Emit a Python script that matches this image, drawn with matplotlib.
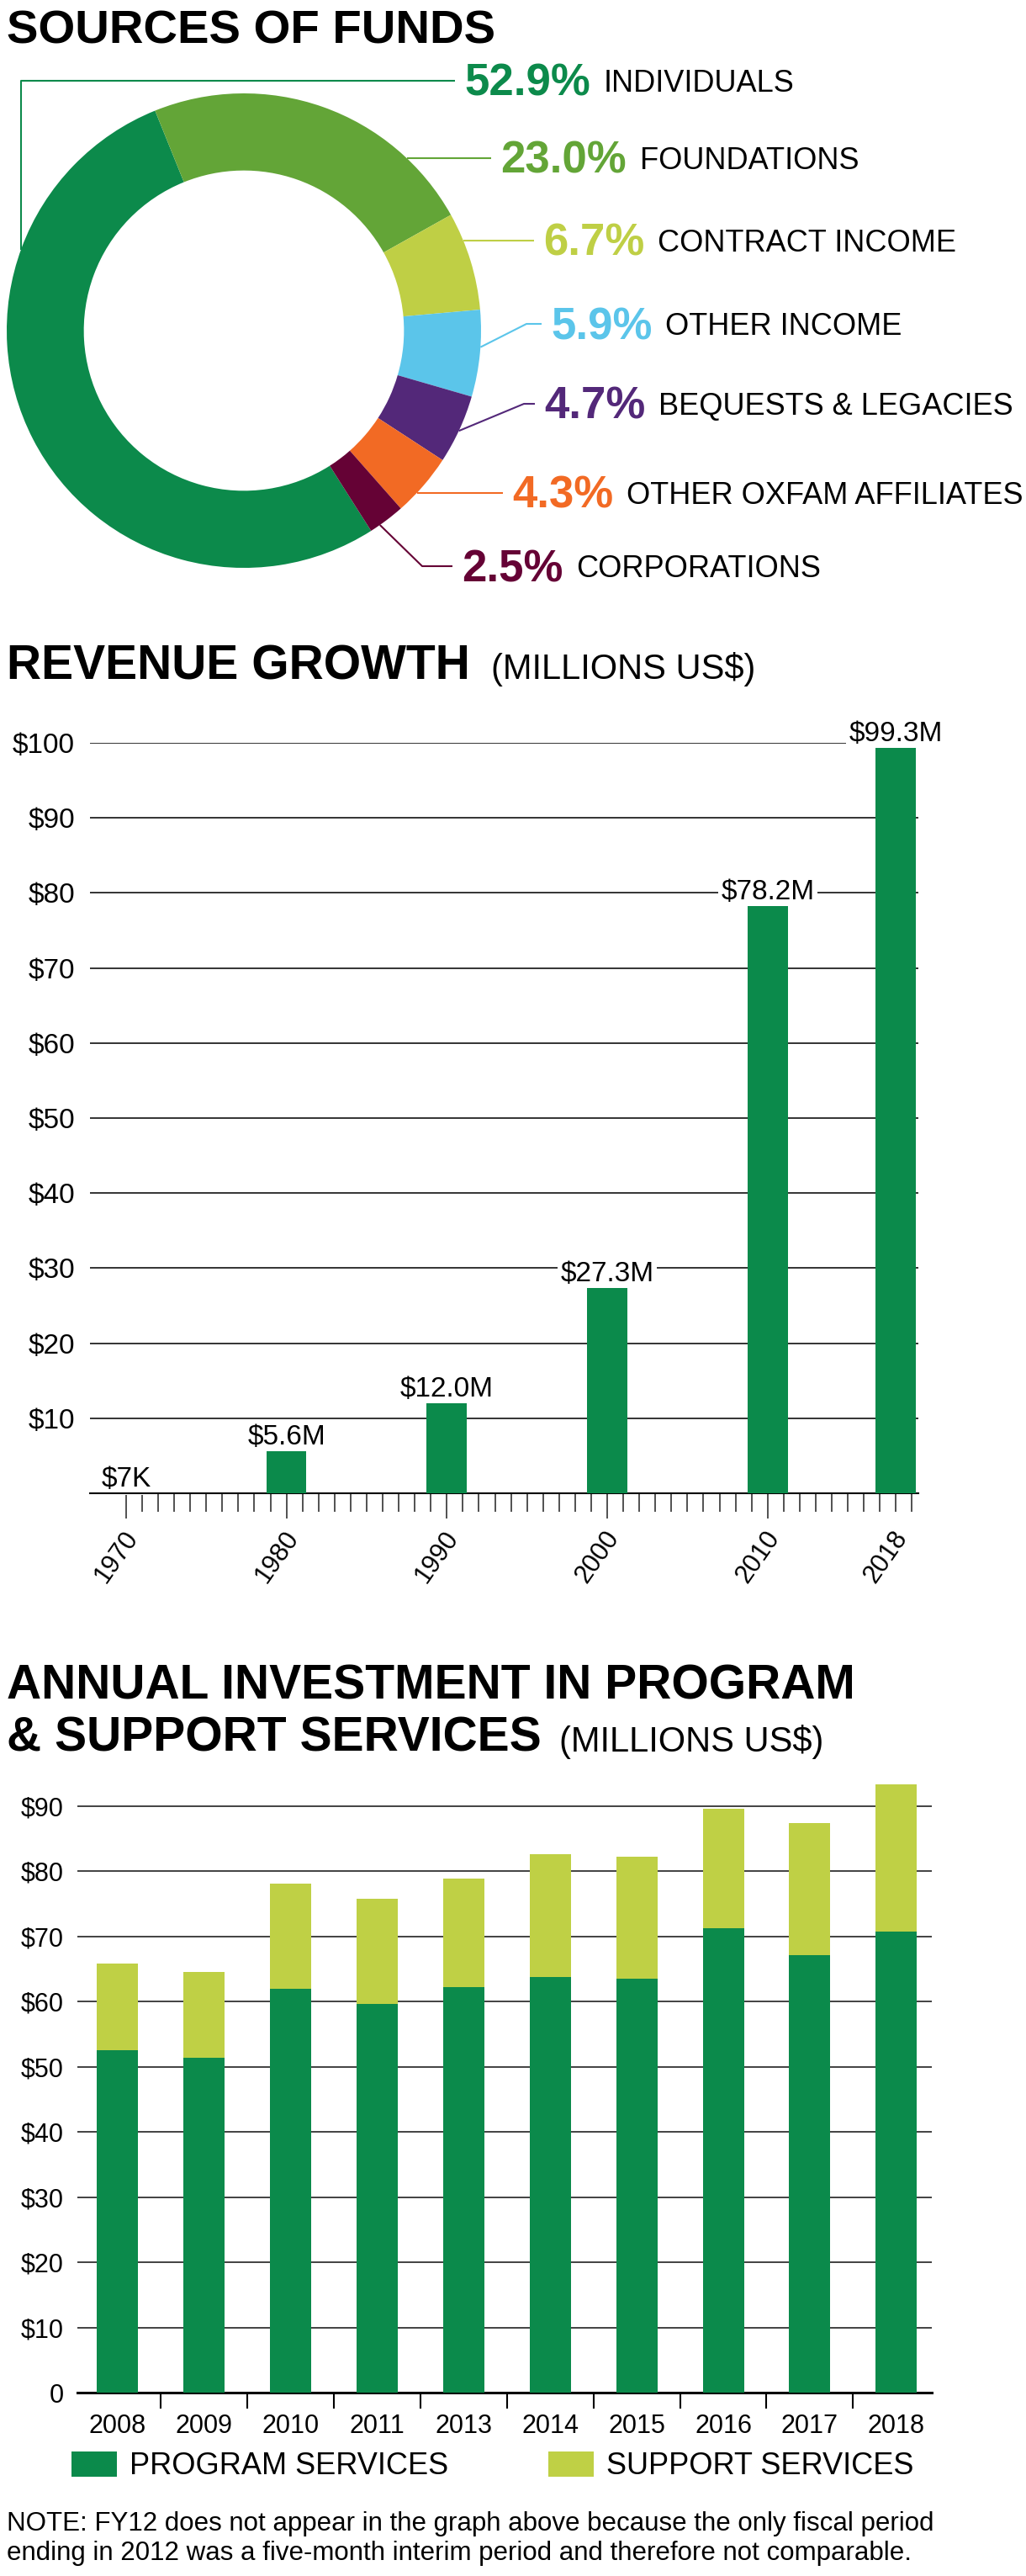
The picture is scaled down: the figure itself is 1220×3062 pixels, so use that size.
import numpy as np
import matplotlib
matplotlib.use("Agg")
import matplotlib.pyplot as plt

plt.rcParams['font.family'] = ['Liberation Sans', 'DejaVu Sans']

W, H = 1220, 3062

# sources of funds (percent)
fund_labels = ["INDIVIDUALS", "FOUNDATIONS", "CONTRACT INCOME", "OTHER INCOME",
               "BEQUESTS & LEGACIES", "OTHER OXFAM AFFILIATES", "CORPORATIONS"]
fund_shares = [52.9, 23.0, 6.7, 5.9, 4.7, 4.3, 2.5]
fund_colors = ["#0c8a4b", "#63a537", "#bfcf45", "#5bc5ea", "#532879", "#f26a24", "#650235"]

# revenue growth (millions US$)
rev_years = [1970, 1980, 1990, 2000, 2010, 2018]
rev_values = [0.007, 5.6, 12.0, 27.3, 78.2, 99.3]
rev_text = ["$7K", "$5.6M", "$12.0M", "$27.3M", "$78.2M", "$99.3M"]

# annual investment (millions US$)
fiscal_years = ["2008", "2009", "2010", "2011", "2013", "2014", "2015", "2016", "2017", "2018"]
program = [52.5, 51.4, 62.0, 59.7, 62.2, 63.8, 63.5, 71.3, 67.2, 70.7]
support = [13.3, 13.2, 16.1, 16.1, 16.7, 18.8, 18.7, 18.3, 20.2, 22.7]

GREEN = "#0b8a4b"
LIME = "#bfd045"
GRID = "#333333"

fig = plt.figure(figsize=(W / 100, H / 100), dpi=100)


def box(x0, y0, x1, y1):
    # axes placed by pixel box (top-left origin)
    return fig.add_axes([x0 / W, 1 - y1 / H, (x1 - x0) / W, (y1 - y0) / H])


# ---------------- donut ----------------
axp = box(8, 111, 572, 675)
start = 112 + fund_shares[0] * 3.6
axp.pie(fund_shares, colors=fund_colors, startangle=start, counterclock=False,
        wedgeprops=dict(width=0.325, linewidth=0))
axp.set_xlim(-1, 1)
axp.set_ylim(-1, 1)
axp.set_aspect('equal')

# overlay for titles, labels and leader lines (pixel coords)
ov = box(0, 0, W, H)
ov.set_xlim(0, W)
ov.set_ylim(H, 0)
ov.axis('off')
ov.patch.set_visible(False)

disp = axp.transData.transform([(0, 0), (1, 0)])
pts = ov.transData.inverted().transform(disp)
cx, cy = pts[0]
R = pts[1][0] - cx

ov.text(8, 51, "SOURCES OF FUNDS", fontsize=40.5, fontweight='bold', va='baseline')

line_y = [96, 188, 286, 385, 480, 586, 673]
text_x = [552, 595, 646, 655, 647, 609, 549]
leader_kind = ["up", "flat", "flat", "diag", "diag", "flat", "diag"]
leader_ang = [160, None, None, -4, -25, None, -55]
elbow_x = [None, None, None, 626, 623, None, 502]

renderer = fig.canvas.get_renderer()
for i, lab in enumerate(fund_labels):
    ly = line_y[i]
    end_x = text_x[i] - 11
    col = fund_colors[i]
    if leader_kind[i] == "flat":
        sx = cx + np.sqrt(R ** 2 - (ly - cy) ** 2)
        xs, ys = [sx, end_x], [ly, ly]
    else:
        a = np.radians(leader_ang[i])
        sx, sy = cx + R * np.cos(a), cy - R * np.sin(a)
        if leader_kind[i] == "up":
            xs, ys = [sx, sx, end_x], [sy, ly, ly]
        else:
            xs, ys = [sx, elbow_x[i], end_x], [sy, ly, ly]
    ov.plot(xs, ys, color=col, lw=1.5, solid_capstyle='butt')
    t = ov.text(text_x[i], ly + 18, f"{fund_shares[i]:.1f}%", fontsize=38,
                fontweight='bold', color=col, va='baseline')
    w = t.get_window_extent(renderer).width
    ov.text(text_x[i] + w + 16, ly + 13, lab, fontsize=26, va='baseline')

# ---------------- revenue growth ----------------
ov.text(8, 807, "REVENUE GROWTH", fontsize=41, fontweight='bold', va='baseline')
ov.text(584, 807, "(MILLIONS US$)", fontsize=30, va='baseline')

ax2 = box(107, 883, 1092, 1775)
ax2.set_xlim(1967.75, 2019.4)
ax2.set_ylim(0, 100)
grid_vals = list(range(10, 101, 10))
for v in grid_vals:
    ax2.axhline(v, color=GRID, lw=1.4, zorder=1)
ax2.bar(rev_years, rev_values, width=2.5, color=GREEN, zorder=3)
for yr, val, txt in zip(rev_years, rev_values, rev_text):
    ax2.annotate(txt, (yr, val), xytext=(0, 8), textcoords='offset pixels',
                 ha='center', va='baseline', fontsize=24, zorder=2.5,
                 bbox=dict(boxstyle='square,pad=0.1', fc='white', ec='none'),
                 annotation_clip=False)
ax2.set_yticks(grid_vals, [f"${v}" for v in grid_vals])
ax2.tick_params(axis='y', length=0, pad=13, labelsize=24)
for s in ['top', 'right', 'left']:
    ax2.spines[s].set_visible(False)
ax2.spines['bottom'].set_linewidth(1.5)
ax2.spines['bottom'].set_color('black')
major_years = [1970, 1980, 1990, 2000, 2010]
ax2.set_xticks(major_years, [""] * len(major_years))
ax2.set_xticks([y for y in range(1971, 2020) if y not in major_years], minor=True)
ax2.tick_params(axis='x', which='major', length=21.6, width=1.1, color='#222222')
ax2.tick_params(axis='x', which='minor', length=15.8, width=1.1, color='#222222')
for yr in rev_years:
    ax2.annotate(str(yr), (yr, 0), xycoords=('data', 'axes fraction'),
                 xytext=(8, -48), textcoords='offset pixels', ha='right',
                 va='center', rotation=55, rotation_mode='anchor', fontsize=22,
                 annotation_clip=False)

# ---------------- annual investment ----------------
ov.text(8, 2019, "ANNUAL INVESTMENT IN PROGRAM", fontsize=41, fontweight='bold', va='baseline')
ov.text(8, 2082, "& SUPPORT SERVICES", fontsize=41, fontweight='bold', va='baseline')
ov.text(665, 2082, "(MILLIONS US$)", fontsize=30, va='baseline')

ax3 = box(92, 2108.3, 1107.5, 2844)
x = np.arange(len(fiscal_years))
ax3.bar(x, program, 0.476, color=GREEN, zorder=3, label="PROGRAM SERVICES")
ax3.bar(x, support, 0.476, bottom=program, color=LIME, zorder=3, label="SUPPORT SERVICES")
ax3.set_xlim(-0.464, 9.405)
ax3.set_ylim(0, 95)
for v in range(10, 91, 10):
    ax3.axhline(v, color=GRID, lw=1.3, zorder=1)
yt = list(range(0, 91, 10))
ax3.set_yticks(yt, ["0"] + [f"${v}" for v in yt[1:]])
ax3.tick_params(axis='y', length=0, pad=11.5, labelsize=22)
ax3.set_xticks(x, fiscal_years)
ax3.set_xticks(x[:-1] + 0.5, minor=True)
ax3.tick_params(axis='x', which='major', length=0, pad=18, labelsize=22)
ax3.tick_params(axis='x', which='minor', length=13.7, width=1.5, color='black')
for s in ['top', 'right', 'left']:
    ax3.spines[s].set_visible(False)
ax3.spines['bottom'].set_linewidth(2.2)
ax3.spines['bottom'].set_color('black')
ax3.legend(loc='upper left', bbox_to_anchor=(85 / W, 1 - 2914 / H),
           bbox_transform=fig.transFigure, ncol=2, frameon=False, fontsize=26,
           handlelength=1.5, handleheight=0.9, handletextpad=0.4,
           columnspacing=3.3, borderpad=0, borderaxespad=0)

ov.text(8, 3008, "NOTE: FY12 does not appear in the graph above because the only fiscal period",
        fontsize=22.5, va='baseline')
ov.text(8, 3043, "ending in 2012 was a five-month interim period and therefore not comparable.",
        fontsize=22.5, va='baseline')

fig.savefig("out.png", dpi=100, facecolor='white')
